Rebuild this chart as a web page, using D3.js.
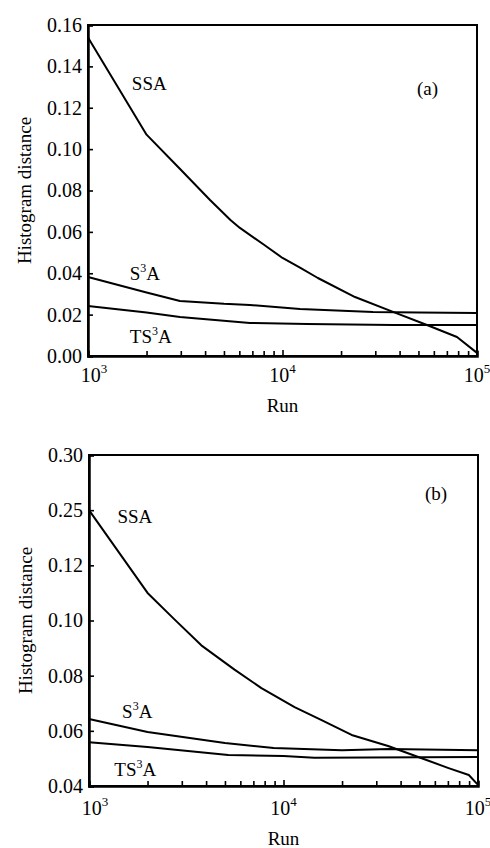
<!DOCTYPE html>
<html>
<head>
<meta charset="utf-8">
<script src="https://cdn.jsdelivr.net/npm/d3@7"></script>
<style>
  body { margin: 0; background: #fff; }
  svg text { font-family: "Liberation Serif", "Times New Roman", serif !important; fill: #000; }
</style>
</head>
<body>
<div id="chart"></div>
<script>
// Data (run count, histogram distance)

// panel (a)
var runsA_SSA = [1000, 2000, 3000, 4240, 5400, 6040, 8000, 10000, 12300, 15200, 23600, 37000, 55300, 78900, 100000];
var valsA_SSA = [0.154, 0.107, 0.090, 0.0754, 0.0657, 0.0619, 0.0539, 0.0474, 0.0427, 0.0377, 0.0285, 0.0213, 0.0150, 0.0092, 0.0015];
var runsA_S3A = [1000, 2000, 2970, 5000, 6800, 12300, 29200, 50000, 100000];
var valsA_S3A = [0.0382, 0.0307, 0.0266, 0.0252, 0.0247, 0.0227, 0.0213, 0.0210, 0.0208];
var runsA_TS3A = [1000, 2000, 2970, 6800, 13400, 37000, 100000];
var valsA_TS3A = [0.0242, 0.0210, 0.0189, 0.0160, 0.0155, 0.0150, 0.0150];

// panel (b)
var runsB_SSA = [1000, 2000, 2750, 3780, 5600, 7700, 11400, 15700, 22400, 34500, 49300, 70600, 89700, 100000];
var valsB_SSA = [0.25, 0.110, 0.1004, 0.0910, 0.0822, 0.0755, 0.0686, 0.0639, 0.0585, 0.0545, 0.0505, 0.0465, 0.0440, 0.0404];
var runsB_S3A = [1000, 2000, 5000, 8900, 20000, 35000, 100000];
var valsB_S3A = [0.0643, 0.0596, 0.0556, 0.0538, 0.0530, 0.0534, 0.0530];
var runsB_TS3A = [1000, 2000, 5200, 10000, 14400, 100000];
var valsB_TS3A = [0.0559, 0.0541, 0.0512, 0.0509, 0.0502, 0.0505];

// tick labels
var yTicksA = [0, 0.02, 0.04, 0.06, 0.08, 0.10, 0.12, 0.14, 0.16];
var yTicksB = [0.04, 0.06, 0.08, 0.10, 0.12, 0.25, 0.30];
var xDecades = [3, 4, 5];

var svgWidth = 490;
var svgHeight = 848;
var plotW = 389;
var plotH = 331;

var svg = d3.select("#chart")
  .append("svg")
  .attr("width", svgWidth)
  .attr("height", svgHeight);

function zip(runs, vals) {
  return runs.map(function(r, i) { return { run: r, v: vals[i] }; });
}

function drawPanel(opts) {
  var g = svg.append("g")
    .attr("transform", `translate(${opts.left}, ${opts.top})`);

  var x = d3.scaleLog().domain([1000, 100000]).range([0, plotW]);
  var y = opts.y;

  // minor + major ticks on the log axis
  var xTicks = [];
  [1000, 10000].forEach(function(base) {
    for (var k = 1; k < 10; k++) xTicks.push(base * k);
  });
  xTicks.push(100000);

  var bottomAxis = d3.axisBottom(x)
    .tickValues(xTicks)
    .tickSize(-5)
    .tickFormat("");

  var leftAxis = d3.axisLeft(y)
    .tickValues(opts.yTicks)
    .tickSize(-5)
    .tickPadding(6)
    .tickFormat(d3.format(".2f"));

  // frame
  g.append("rect")
    .attr("width", plotW)
    .attr("height", plotH)
    .attr("fill", "none")
    .attr("stroke", "#000")
    .attr("stroke-width", 2);

  var xg = g.append("g")
    .attr("transform", `translate(0, ${plotH})`)
    .call(bottomAxis);
  xg.select(".domain").attr("stroke-width", 2.5);
  xg.selectAll(".tick line").attr("stroke-width", 1.6);
  xg.selectAll(".tick line")
    .filter(function(d) { return [1000, 10000, 100000].indexOf(d) >= 0; })
    .attr("y2", -6);

  var yg = g.append("g").call(leftAxis);
  yg.select(".domain").attr("stroke-width", 2.5);
  yg.selectAll(".tick line").attr("stroke-width", 1.6);
  yg.selectAll(".tick text")
    .attr("font-size", 20);

  // decade labels 10^n
  xDecades.forEach(function(p, i) {
    var t = g.append("text")
      .attr("x", x(Math.pow(10, p)) + (i === 0 ? 6 : 0))
      .attr("y", plotH + opts.xLabelDy)
      .attr("text-anchor", "middle")
      .attr("font-size", 20);
    t.append("tspan").text("10");
    t.append("tspan").attr("font-size", 13).attr("dy", -9).text(p);
  });

  // lines
  var line = d3.line()
    .x(function(d) { return x(d.run); })
    .y(function(d) { return y(d.v); });

  opts.series.forEach(function(s) {
    g.append("path")
      .datum(zip(s.runs, s.vals))
      .attr("fill", "none")
      .attr("stroke", "#000")
      .attr("stroke-width", 2)
      .attr("stroke-linejoin", "round")
      .attr("d", line);
  });

  // series labels
  opts.labels.forEach(function(l) {
    var t = g.append("text")
      .attr("x", x(l.run))
      .attr("y", y(l.v))
      .attr("font-size", 19);
    t.append("tspan").text(l.pre);
    if (l.sup) {
      t.append("tspan").attr("font-size", 12).attr("dy", -8).text(l.sup);
      t.append("tspan").attr("dy", 8).text(l.post);
    }
  });

  // panel tag
  g.append("text")
    .attr("x", opts.tag.x)
    .attr("y", opts.tag.y)
    .attr("font-size", 19)
    .text(opts.tag.text);

  // axis titles
  g.append("text")
    .attr("transform", `translate(${-57}, ${plotH / 2}) rotate(-90)`)
    .attr("text-anchor", "middle")
    .attr("font-size", 19)
    .text("Histogram distance");

  g.append("text")
    .attr("x", plotW / 2)
    .attr("y", plotH + opts.runDy)
    .attr("text-anchor", "middle")
    .attr("font-size", 19)
    .text("Run");
}

var yA = d3.scaleLinear().domain([0, 0.16]).range([plotH, 0]);
var yB = d3.scaleLinear()
  .domain([0.04, 0.12, 0.25, 0.30])
  .range([plotH, plotH * 2 / 6, plotH / 6, 0]);

drawPanel({
  left: 88, top: 25, y: yA, yTicks: yTicksA,
  xLabelDy: 26, runDy: 56,
  tag: { text: "(a)", x: 329, y: 70 },
  series: [
    { runs: runsA_SSA, vals: valsA_SSA },
    { runs: runsA_S3A, vals: valsA_S3A },
    { runs: runsA_TS3A, vals: valsA_TS3A }
  ],
  labels: [
    { run: 1680, v: 0.1285, pre: "SSA" },
    { run: 1640, v: 0.0366, pre: "S", sup: "3", post: "A" },
    { run: 1640, v: 0.0062, pre: "TS", sup: "3", post: "A" }
  ]
});

drawPanel({
  left: 89, top: 455, y: yB, yTicks: yTicksB,
  xLabelDy: 29, runDy: 59,
  tag: { text: "(b)", x: 336, y: 45 },
  series: [
    { runs: runsB_SSA, vals: valsB_SSA },
    { runs: runsB_S3A, vals: valsB_S3A },
    { runs: runsB_TS3A, vals: valsB_TS3A }
  ],
  labels: [
    { run: 1400, v: 0.22, pre: "SSA" },
    { run: 1480, v: 0.0647, pre: "S", sup: "3", post: "A" },
    { run: 1350, v: 0.0436, pre: "TS", sup: "3", post: "A" }
  ]
});
</script>
</body>
</html>
